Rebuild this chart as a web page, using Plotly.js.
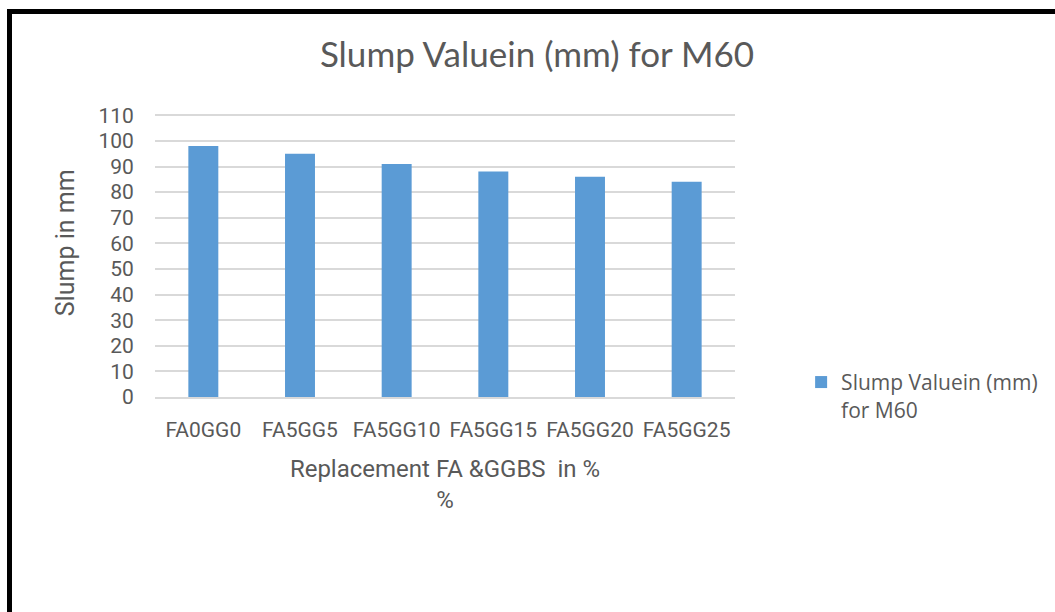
<!DOCTYPE html>
<html>
<head>
<meta charset="utf-8">
<script src="https://cdn.plot.ly/plotly-3.0.1.min.js"></script>
<style>
  html, body { margin: 0; padding: 0; background: #fff; overflow: hidden; }
  #wrap { position: relative; width: 1055px; height: 612px; overflow: hidden; }
  #chart { width: 1055px; height: 612px; }
  #frame { position: absolute; left: 7px; top: 9px; width: 1200px; height: 800px;
           border: 5px solid #000; pointer-events: none; box-sizing: border-box; }
</style>
</head>
<body>
<div id="wrap">
  <div id="chart"></div>
  <div id="frame"></div>
</div>
<script>
const categories = ["FA0GG0", "FA5GG5", "FA5GG10", "FA5GG15", "FA5GG20", "FA5GG25"];
const slumpValues = [98, 95, 91, 88, 86, 84];
const yTicks = [0, 10, 20, 30, 40, 50, 60, 70, 80, 90, 100, 110];
const seriesName = "Slump Valuein (mm)<br>for M60";
const chartTitle = "Slump Valuein (mm) for M60";
const xTitle = "Replacement FA &GGBS  in %<br>%";
const yTitle = "Slump in mm";

const textColor = "#595959";

const data = [{
  type: "bar",
  x: categories,
  y: slumpValues,
  name: seriesName,
  marker: { color: "#5B9BD5" },
  showlegend: true,
  hoverinfo: "x+y"
}];

const layout = {
  width: 1055,
  height: 612,
  paper_bgcolor: "#ffffff",
  plot_bgcolor: "#ffffff",
  margin: { l: 155, r: 316, t: 114, b: 215 },
  bargap: 0.69,
  title: {
    text: chartTitle,
    font: { family: "Lato, 'Open Sans', sans-serif", size: 35, color: textColor },
    x: 537 / 1055, xref: "container", xanchor: "center",
    y: 1 - 55 / 612, yref: "container", yanchor: "middle"
  },
  xaxis: {
    type: "category",
    tickfont: { family: "Roboto, sans-serif", size: 21, color: textColor },
    ticks: "outside", ticklen: 13, tickcolor: "rgba(0,0,0,0)",
    showline: true, linecolor: "#D9D9D9", linewidth: 2,
    showgrid: false, zeroline: false,
    title: {
      text: xTitle,
      font: { family: "Roboto, sans-serif", size: 24, color: textColor },
      standoff: 19
    }
  },
  yaxis: {
    range: [0, 110.5],
    tickvals: yTicks,
    ticktext: yTicks.map(String),
    tickfont: { family: "Roboto, sans-serif", size: 21, color: textColor },
    ticks: "outside", ticklen: 16, tickcolor: "rgba(0,0,0,0)",
    showgrid: true, gridcolor: "#D9D9D9", gridwidth: 2,
    zeroline: false, showline: false
  },
  annotations: [{
    text: yTitle,
    textangle: -90,
    xref: "paper", yref: "paper",
    x: (65 - 155.4) / 584, y: (397 - 243) / 283,
    xanchor: "center", yanchor: "middle",
    showarrow: false,
    font: { family: "Roboto, sans-serif", size: 25, color: textColor }
  }],
  legend: {
    x: 1.114, xanchor: "left",
    y: 0.124, yanchor: "top",
    valign: "top",
    font: { family: "'Open Sans', Roboto, sans-serif", size: 21, color: textColor },
    itemwidth: 30,
    bgcolor: "rgba(0,0,0,0)"
  }
};

Plotly.newPlot("chart", data, layout, { displayModeBar: false, staticPlot: true });
</script>
</body>
</html>
